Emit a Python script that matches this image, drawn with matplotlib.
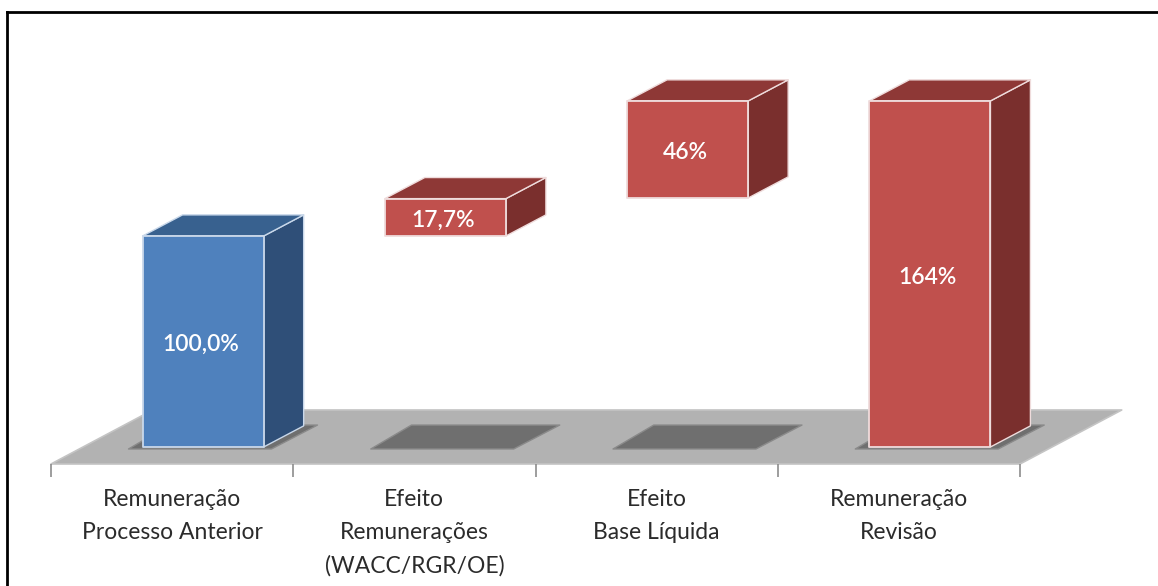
from matplotlib import pyplot as plt
from matplotlib.patches import Polygon
from matplotlib.lines import Line2D

categories = ['Remuneração\nProcesso Anterior', 'Efeito\nRemunerações\n(WACC/RGR/OE)',
              'Efeito\nBase Líquida', 'Remuneração\nRevisão']
values = [100.0, 17.7, 46.0, 164.0]
bottoms = [0.0, 100.0, 118.0, 0.0]
value_labels = ['100,0%', '17,7%', '46%', '164%']

blue = ('#4f81bd', '#38618f', '#2f4f78')
red = ('#c0504d', '#8e3836', '#7a2f2d')
bar_colors = [blue, red, red, red]

plt.rcParams['font.family'] = ['Lato', 'DejaVu Sans']

fig = plt.figure(figsize=(11.58, 5.86), dpi=100)
ax = fig.add_axes([51 / 1158, 122 / 586, 969 / 1158, 404 / 586])
ax.set_xlim(-0.5, 3.5)
ax.set_ylim(-8.06, 183.4)
ax.patch.set_visible(False)
for s in ax.spines.values():
	s.set_visible(False)


def poly(points, face, edge='none', lw=0.0, z=1):
	ax.add_patch(Polygon(points, closed=True, facecolor=face, edgecolor=edge,
						 linewidth=lw, joinstyle='round', clip_on=False, zorder=z))


# floor
floor_y = -8.06
floor_dx, floor_dy = 0.42, 25.6
poly([(-0.5, floor_y), (3.5, floor_y), (3.5 + floor_dx, floor_y + floor_dy),
	  (-0.5 + floor_dx, floor_y + floor_dy)], '#b2b2b2', '#c4c4c4', 1.2, z=1)

# shadows on the floor
for i in range(len(categories)):
	poly([(i - 0.18, -0.95), (i + 0.41, -0.95), (i + 0.60, 10.4), (i - 0.012, 10.4)],
		 '#6f6f6f', '#8a8a8a', 1.0, z=2)

# bars
width, shift = 0.5, 0.128
dx, dy = 0.165, 10.0
edge = '#efdcdc'
for i in range(len(categories)):
	front, top, side = bar_colors[i]
	x0 = i + shift - width / 2
	x1 = x0 + width
	y0 = bottoms[i]
	y1 = y0 + values[i]
	e = '#c9d8ea' if front == blue[0] else edge
	poly([(x1, y0), (x1 + dx, y0 + dy), (x1 + dx, y1 + dy), (x1, y1)], side, e, 1.0, z=3)
	poly([(x0, y1), (x1, y1), (x1 + dx, y1 + dy), (x0 + dx, y1 + dy)], top, e, 1.0, z=3)
	poly([(x0, y0), (x1, y0), (x1, y1), (x0, y1)], front, e, 1.3, z=4)
	ax.text(x0 + width / 2 - 0.008, y0 + values[i] / 2 - 1.5, value_labels[i], color='white', fontsize=16.5,
			fontweight='semibold', ha='center', va='center', zorder=5)

# axis
ax.set_yticks([])
ax.set_xticks(range(len(categories)))
ax.set_xticklabels(categories, fontsize=16.5, color='#2b2b2b', linespacing=1.69)
ax.set_xticks([-0.5, 0.5, 1.5, 2.5, 3.5], minor=True)
ax.tick_params(axis='x', which='major', length=0, pad=18)
ax.tick_params(axis='x', which='minor', length=9, width=1.2, color='#8c8c8c')

# picture frame, only on the top and left
fig.add_artist(Line2D([7 / 1158, 1], [1 - 12 / 586, 1 - 12 / 586], color='black', lw=2))
fig.add_artist(Line2D([7 / 1158, 7 / 1158], [0, 1 - 12 / 586], color='black', lw=2))

plt.savefig('out.png', dpi=100)
